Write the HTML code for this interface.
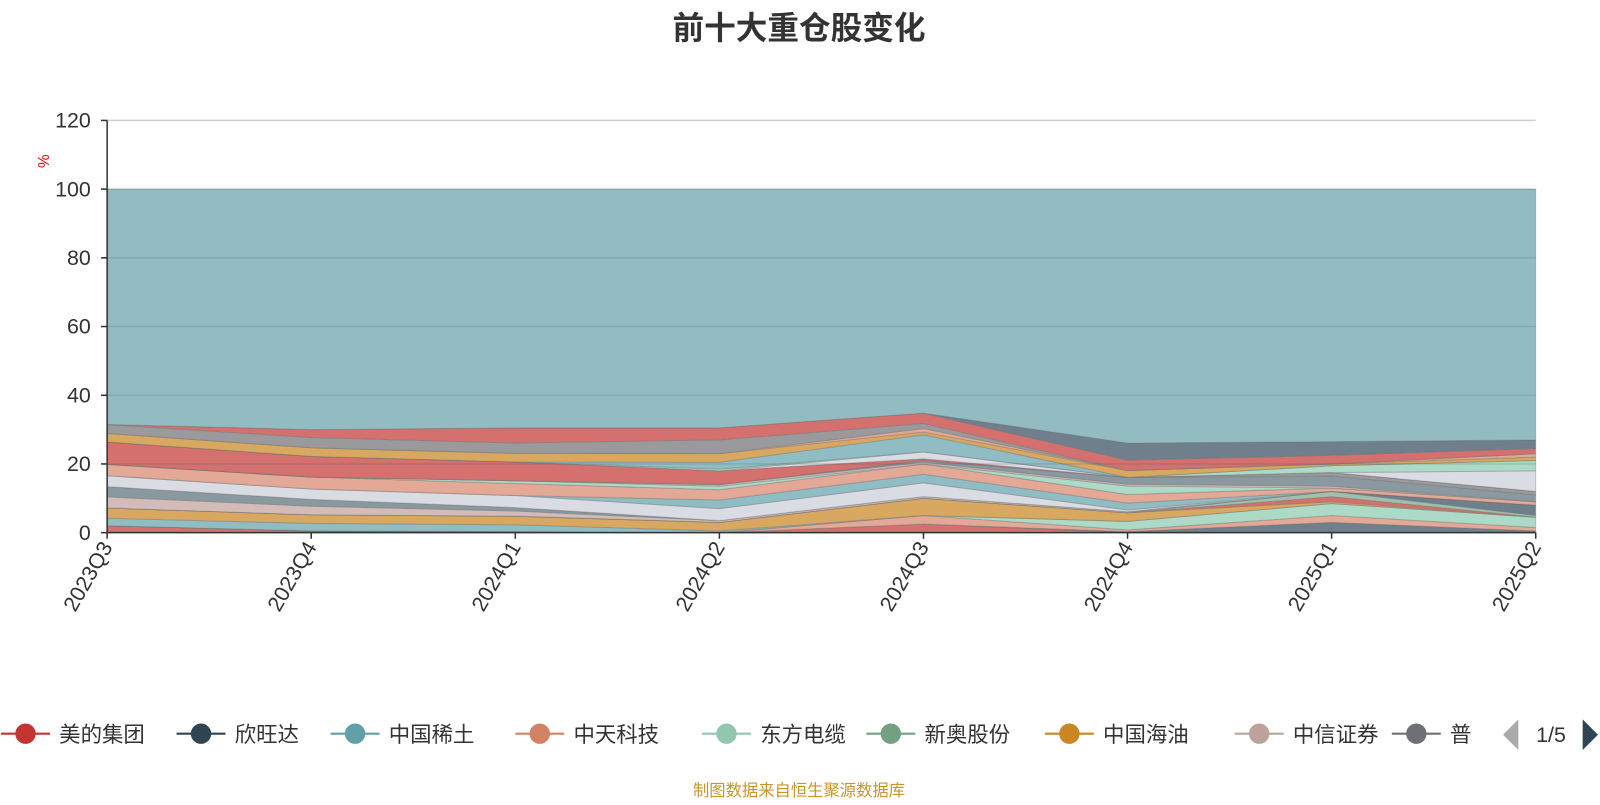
<!DOCTYPE html>
<html><head><meta charset="utf-8"><style>
body{margin:0;background:#fff;width:1600px;height:800px;overflow:hidden;font-family:"Liberation Sans","Noto Sans CJK SC",sans-serif}
</style></head><body>
<svg id="c" width="1600" height="800" viewBox="0 0 1568 784" xmlns="http://www.w3.org/2000/svg">
<text x="783" y="38" text-anchor="middle" font-size="31" font-weight="bold" fill="#333">前十大重仓股变化</text>
<text x="783" y="780" text-anchor="middle" font-size="16" fill="#c9952c">制图数据来自恒生聚源数据库</text>
<text transform="translate(48,158) rotate(-90)" text-anchor="middle" font-size="15" fill="#e00">%</text>
<g id="areas"></g><g id="axes"></g><g id="legend"></g>
</svg>
<script>
const categories=['2023Q3','2023Q4','2024Q1','2024Q2','2024Q3','2024Q4','2025Q1','2025Q2'];
const yTicks=[0,20,40,60,80,100,120];
const layerColors=['#d4716e','#6f7f8b','#e3a896','#acdac6','#8fbdc3','#d9a860','#d4716e','#9fc0ac','#6f7f8b','#d3bcb7','#8a98a0','#d9dce3','#8fbdc3','#e3a896','#acdac6','#d3bcb7','#8a98a0','#9a9a9d','#d4716e','#d9dce3','#acdac6','#8fbdc3','#d9a860','#e3a896','#9a9a9d','#d4716e','#6f7f8b'];
const s1=[2,0.5,0.3,0,2.5,0,0,0];
const s2=[0,0,0,0,0,0.3,3,0.5];
const s3=[0,0,0,0,2.5,0.5,2,1];
const s4=[0,0,0,0,0,2.5,3.5,3];
const s5=[2.2,2.2,2,0.5,0,0,0,0];
const s6=[3,2.5,2.5,2.5,5,2.5,0.5,0];
const s7=[0,0,0,0,0,0,1.5,0];
const s8=[0,0,0,0,0,0,1.5,0.5];
const s9=[0,0,0,0,0,0,0,3];
const s10=[3.2,2.5,1.5,0.5,0.5,0.3,0,0];
const s11=[3,2,1,0,0,0,0,0];
const s12=[3.2,3,3.5,3.5,4,0.5,0,0];
const s13=[0,0,0,2.5,2.5,2,0,0];
const s14=[3.3,3.5,3.5,3,3,2.5,1,1];
const s15=[0,0,0.8,1,0,2.5,0,0];
const s16=[0,0,0,0.5,0.5,0.5,0.5,0];
const s17=[0,0,0,0,0.5,2,3,2];
const s18=[0,0,0,0,0,0,1,1];
const s19=[6.5,6,5.5,4,0.5,0,0,0];
const s20=[0,0,0,0,2,0,0,6];
const s21=[0,0,0,0.5,0,0,2,3];
const s22=[0,0,0,2,5,0,0,0];
const s23=[2.5,2.5,2.5,2.5,0.8,2,0.5,1];
const s24=[0,0,0,0,1,0,0,1];
const s25=[2.6,3,3,4,1.5,0,0,0];
const s26=[0,2.3,4.4,3.5,3,3,2.5,1.5];
const s27=[0,0,0,0,0,5,4,2.5];
const seriesList=[s1,s2,s3,s4,s5,s6,s7,s8,s9,s10,s11,s12,s13,s14,s15,s16,s17,s18,s19,s20,s21,s22,s23,s24,s25,s26,s27];
const legendNames=['美的集团','欣旺达','中国稀土','中天科技','东方电缆','新奥股份','中国海油','中信证券','普'];
const legendColors=['#c23531','#2f4554','#61a0a8','#d48265','#91c7ae','#749f83','#ca8622','#bda29a','#6e7074'];
const NS='http://www.w3.org/2000/svg';
const X0=105,X1=1505,Y0=522,Y1=118;
const xs=i=>X0+i*(X1-X0)/(categories.length-1);
const ys=v=>Y0-v*(Y0-Y1)/120;
function mk(t,a,p){const e=document.createElementNS(NS,t);for(const k in a)e.setAttribute(k,a[k]);(p||document.getElementById('c')).appendChild(e);return e;}
const areas=document.getElementById('areas'),axes=document.getElementById('axes'),leg=document.getElementById('legend');
let base=categories.map(()=>0);
const all=seriesList.slice();
const totals=categories.map((c,i)=>all.reduce((s,a)=>s+a[i],0));
all.push(totals.map(t=>100-t));
const cols=layerColors.concat(['#93bcc2']);
all.forEach((vals,k)=>{
  const top=base.map((b,i)=>b+vals[i]);
  let d='M'+categories.map((c,i)=>xs(i)+','+ys(top[i])).join('L');
  for(let i=categories.length-1;i>=0;i--)d+='L'+xs(i)+','+ys(base[i]);
  const p=mk('path',{d:d+'Z',fill:cols[k],stroke:'rgba(110,110,110,0.35)','stroke-width':1},areas);
  
  
  base=top;
});
yTicks.forEach(v=>{
  const l=mk('line',{x1:X0,x2:X1,y1:ys(v),y2:ys(v),stroke:v==120?'#ccc':'rgba(60,90,100,0.18)','stroke-width':1.5},axes);
  
  
  mk('line',{x1:X0-6,x2:X0,y1:ys(v),y2:ys(v),stroke:'#333','stroke-width':1.5},axes);
  const t=mk('text',{x:X0-16,y:ys(v)+7,'text-anchor':'end','font-size':21,fill:'#333'},axes);
  t.textContent=v;
  
  
});
mk('line',{x1:X0,x2:X0,y1:Y1,y2:Y0,stroke:'#333','stroke-width':1.5},axes);
mk('line',{x1:X0,x2:X1,y1:Y0,y2:Y0,stroke:'#333','stroke-width':1.5},axes);
categories.forEach((c,i)=>{
  mk('line',{x1:xs(i),x2:xs(i),y1:Y0,y2:Y0+6,stroke:'#333','stroke-width':1.5},axes);
  const t=mk('text',{transform:'translate('+(xs(i)+6)+','+(Y0+14)+') rotate(-60)','text-anchor':'end','font-size':21,fill:'#333'},axes);
  t.textContent=c;
  
  
});
const lx=[25,197,348,529,712,873,1048,1234,1388];
legendNames.forEach((n,i)=>{
  const g=mk('g',{},leg);
  
  
  mk('line',{x1:lx[i]-24,x2:lx[i]+24,y1:719,y2:719,stroke:legendColors[i],'stroke-width':2},g);
  mk('circle',{cx:lx[i],cy:719,r:10,fill:legendColors[i]},g);
  const t=mk('text',{x:lx[i]+33,y:727,'font-size':21,fill:'#333'},g);
  t.textContent=n;
});
mk('rect',{x:1455,y:700,width:20,height:40,fill:'#fff'},leg);
const pl=mk('path',{d:'M1488,705L1488,735L1473,720Z',fill:'#aaa'},leg);


const pt=mk('text',{x:1520,y:727,'text-anchor':'middle','font-size':21,fill:'#333'},leg);
pt.textContent='1/5';


const pr=mk('path',{d:'M1551,705L1551,735L1566,720Z',fill:'#2f4554'},leg);


</script>
</body></html>
